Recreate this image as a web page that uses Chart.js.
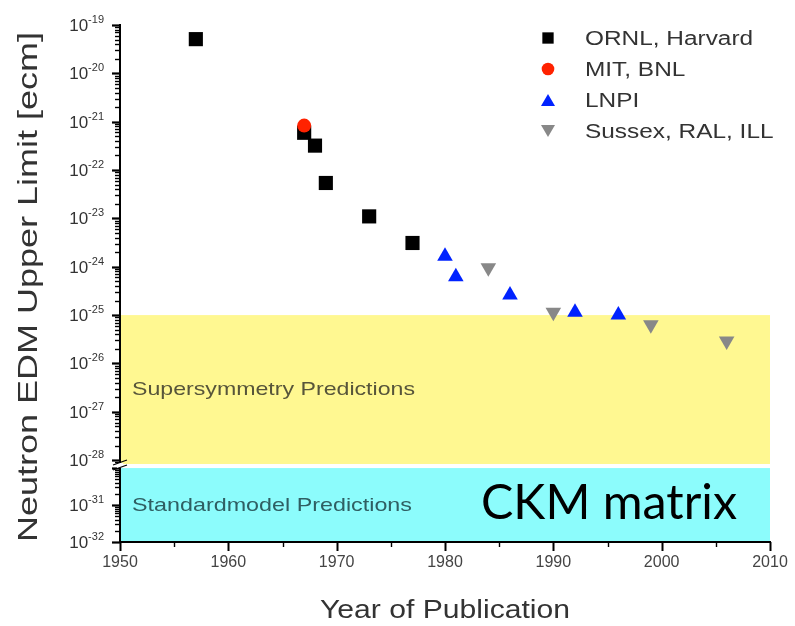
<!DOCTYPE html>
<html>
<head>
<meta charset="utf-8">
<script src="https://cdn.jsdelivr.net/npm/chart.js"></script>
<style>
html, body { margin: 0; padding: 0; background: #fff; }
#wrap { width: 795px; height: 626px; }
</style>
</head>
<body>
<div id="wrap"><canvas id="edm" width="795" height="626"></canvas></div>
<script>
// neutron EDM upper limits [e cm] by year of publication
const ornlYears = [1957, 1967, 1968, 1969, 1973, 1977];
const ornlLimits = [5.1e-20, 5.9e-22, 3.2e-22, 5.4e-23, 1.1e-23, 3.1e-24];

const mitYears = [1967];
const mitLimits = [8.3e-22];

const lnpiYears = [1980, 1981, 1986, 1992, 1996];
const lnpiLimits = [1.65e-24, 6.2e-25, 2.6e-25, 1.15e-25, 1.0e-25];

const sussexYears = [1984, 1990, 1999, 2006];
const sussexLimits = [9.5e-25, 1.15e-25, 6.3e-26, 2.9e-26];

// prediction bands [low, high]
const susyBand = [1e-28, 1e-25];
const smBand = [1e-32, 1e-30];

// y axis decades (broken axis: upper part and lower part)
const upperDecades = [-19, -20, -21, -22, -23, -24, -25, -26, -27, -28];
const lowerDecades = [-30, -31, -32];
const lowerLabelled = [-31, -32];

const FONT = "'Liberation Sans', Arial, sans-serif";

function pts(xs, ys) {
    return xs.map((x, i) => ({ x: x, y: ys[i] }));
}

// draw text squeezed/stretched to a given width
function wideText(ctx, text, x, y, font, color, width, align, angle) {
    ctx.save();
    ctx.font = font;
    ctx.fillStyle = color;
    ctx.textBaseline = 'alphabetic';
    ctx.textAlign = align || 'left';
    const w = ctx.measureText(text).width;
    ctx.translate(x, y);
    if (angle) ctx.rotate(angle);
    ctx.scale(width ? width / w : 1, 1);
    ctx.fillText(text, 0, 0);
    ctx.restore();
}

function drawLogTicks(ctx, scale, decades, axisX) {
    const lo = Math.min(...decades), hi = Math.max(...decades);
    ctx.strokeStyle = '#000';
    for (let d = lo - 1; d <= hi; d++) {
        for (let k = 1; k <= 9; k++) {
            const v = k * Math.pow(10, d);
            if (v < scale.min * 0.999 || v > scale.max * 1.001) continue;
            const py = Math.round(scale.getPixelForValue(v)) + 0.5;
            const len = k === 1 ? 8 : 5;
            ctx.lineWidth = k === 1 ? 2.2 : 1.4;
            ctx.beginPath();
            ctx.moveTo(axisX - len, py);
            ctx.lineTo(axisX, py);
            ctx.stroke();
        }
    }
}

function drawDecadeLabel(ctx, scale, d) {
    const py = scale.getPixelForValue(Math.pow(10, d));
    ctx.save();
    ctx.fillStyle = '#333';
    ctx.textAlign = 'right';
    ctx.textBaseline = 'alphabetic';
    ctx.font = '11px ' + FONT;
    const exp = '-' + Math.abs(d);
    ctx.fillText(exp, 104, py - 2);
    const ew = ctx.measureText(exp).width;
    ctx.font = '17px ' + FONT;
    ctx.fillText('10', 104 - ew, py + 6);
    ctx.restore();
}

const decor = {
    id: 'decor',
    beforeDraw(chart) {
        const ctx = chart.ctx;
        const x = chart.scales.x, yt = chart.scales.yTop, yb = chart.scales.yBot;
        ctx.save();
        // supersymmetry band runs down to the axis break
        const t1 = yt.getPixelForValue(susyBand[1]);
        ctx.fillStyle = '#fff891';
        ctx.fillRect(x.left, t1, x.right - x.left, yt.bottom - t1);
        const t2 = yb.getPixelForValue(smBand[1]);
        const b2 = yb.getPixelForValue(smBand[0]);
        ctx.fillStyle = '#8cfcfc';
        ctx.fillRect(x.left, t2, x.right - x.left, b2 - t2);
        ctx.restore();
    },
    afterDraw(chart) {
        const ctx = chart.ctx;
        const x = chart.scales.x, yt = chart.scales.yTop, yb = chart.scales.yBot;
        const ax = x.left;
        ctx.save();

        // y ticks + labels
        drawLogTicks(ctx, yt, upperDecades, ax);
        drawLogTicks(ctx, yb, lowerDecades, ax);
        upperDecades.forEach(d => drawDecadeLabel(ctx, yt, d));
        lowerLabelled.forEach(d => drawDecadeLabel(ctx, yb, d));

        // x ticks, every 5 years
        ctx.strokeStyle = '#000';
        x.ticks.forEach(t => {
            const px = Math.round(x.getPixelForValue(t.value)) + 0.5;
            const major = t.value % 10 === 0;
            ctx.lineWidth = major ? 2 : 1.4;
            ctx.beginPath();
            ctx.moveTo(px, x.top);
            ctx.lineTo(px, x.top + (major ? 9 : 5));
            ctx.stroke();
        });

        // axis break
        const yBreak = yt.bottom;
        ctx.fillStyle = '#fff';
        ctx.fillRect(ax - 3, yBreak - 1, 6, 5);
        ctx.strokeStyle = '#000';
        ctx.lineWidth = 1.3;
        ctx.beginPath();
        ctx.moveTo(ax - 7, yBreak + 1); ctx.lineTo(ax + 7, yBreak - 4);
        ctx.moveTo(ax - 7, yBreak + 6); ctx.lineTo(ax + 7, yBreak + 1);
        ctx.stroke();

        // band captions
        wideText(ctx, 'Supersymmetry Predictions', 132, 395, '19px ' + FONT, '#57553a', 283);
        wideText(ctx, 'Standardmodel Predictions', 132, 511, '19px ' + FONT, '#2f5e62', 280);
        wideText(ctx, 'CKM matrix', 481, 519, "48px Lato, 'Open Sans', sans-serif", '#000', 256);

        // axis titles
        wideText(ctx, 'Year of Publication', 445, 618, '26px ' + FONT, '#333', 250, 'center');
        wideText(ctx, 'Neutron EDM Upper Limit [ecm]', 37, 287, '28px ' + FONT, '#333', 510, 'center', -Math.PI / 2);

        // legend
        chart.data.datasets.forEach((ds, i) => {
            const cy = 38 + i * 31;
            const r = ds.pointStyle === 'rect' ? 8 : ds.pointRadius * 0.9;
            ctx.fillStyle = ds.backgroundColor;
            Chart.helpers.drawPoint(ctx, {
                pointStyle: ds.pointStyle,
                rotation: ds.pointRotation || 0,
                radius: r,
                borderWidth: 0
            }, 548, ds.pointStyle === 'triangle' ? cy + (ds.pointRotation ? -2 : 2) : cy);
            ctx.font = '20px ' + FONT;
            const w = ctx.measureText(ds.label).width;
            wideText(ctx, ds.label, 585, cy + 7, '20px ' + FONT, '#333', w * 1.22);
        });
        ctx.restore();
    }
};

const config = {
    type: 'scatter',
    data: {
        datasets: [
            {
                label: 'ORNL, Harvard',
                data: pts(ornlYears, ornlLimits),
                pointStyle: 'rect',
                pointRadius: 10,
                backgroundColor: '#000000',
                borderWidth: 0,
                yAxisID: 'yTop',
                order: 1
            },
            {
                label: 'MIT, BNL',
                data: pts(mitYears, mitLimits),
                pointStyle: 'circle',
                pointRadius: 7,
                backgroundColor: '#ff2200',
                borderWidth: 0,
                yAxisID: 'yTop',
                order: 0
            },
            {
                label: 'LNPI',
                data: pts(lnpiYears, lnpiLimits),
                pointStyle: 'triangle',
                pointRadius: 9,
                backgroundColor: '#0022ff',
                borderWidth: 0,
                yAxisID: 'yTop',
                order: 2
            },
            {
                label: 'Sussex, RAL, ILL',
                data: pts(sussexYears, sussexLimits),
                pointStyle: 'triangle',
                pointRotation: 180,
                pointRadius: 9,
                backgroundColor: '#888888',
                borderWidth: 0,
                yAxisID: 'yTop',
                order: 3
            }
        ]
    },
    options: {
        responsive: false,
        animation: false,
        events: [],
        layout: { padding: { left: 0, right: 25, top: 25, bottom: 0 } },
        plugins: {
            legend: { display: false },
            tooltip: { enabled: false }
        },
        scales: {
            x: {
                type: 'linear',
                min: 1950,
                max: 2010,
                ticks: {
                    stepSize: 5,
                    autoSkip: false,
                    maxRotation: 0,
                    padding: 5,
                    color: '#444',
                    font: { family: FONT, size: 16 },
                    callback: v => (v % 10 === 0 ? String(v) : '')
                },
                grid: { display: false, drawTicks: true, tickLength: 6 },
                border: { display: true, color: '#000', width: 2 },
                afterFit: s => { s.height = 84; }
            },
            yTop: {
                type: 'logarithmic',
                position: 'left',
                stack: 'edm',
                stackWeight: 439,
                weight: 2,
                min: Math.pow(10, -28.08),
                max: 1e-19,
                ticks: { display: false },
                grid: { display: false, drawTicks: false },
                border: { display: true, color: '#000', width: 2 },
                afterFit: s => { s.width = 120; }
            },
            yBot: {
                type: 'logarithmic',
                position: 'left',
                stack: 'edm',
                stackWeight: 78,
                weight: 1,
                min: 1e-32,
                max: Math.pow(10, -29.89),
                ticks: { display: false },
                grid: { display: false, drawTicks: false },
                border: { display: true, color: '#000', width: 2 },
                afterFit: s => { s.width = 120; }
            }
        }
    },
    plugins: [decor]
};

let edmChart = new Chart(document.getElementById('edm'), config);
</script>
</body>
</html>
